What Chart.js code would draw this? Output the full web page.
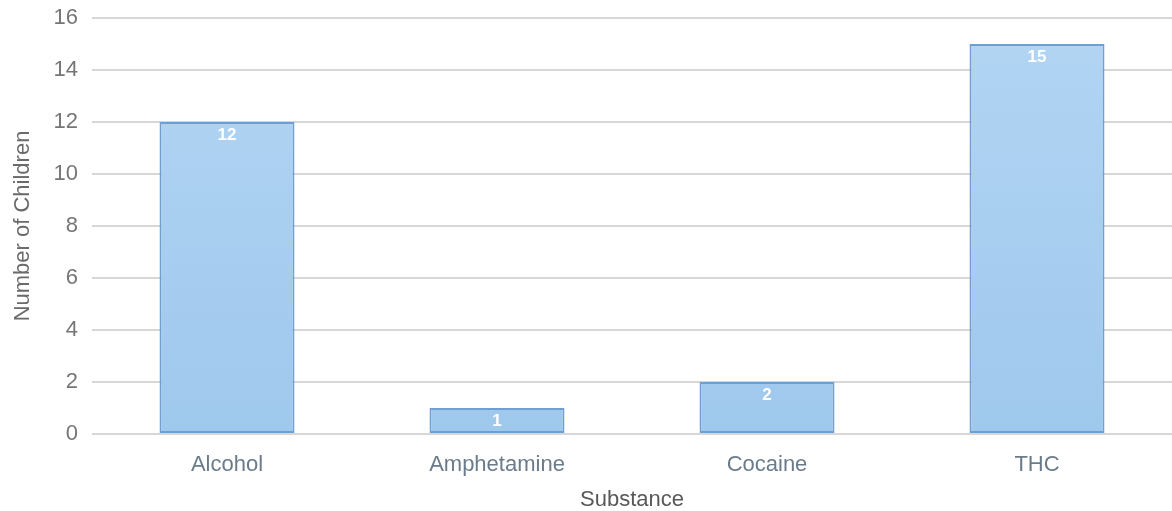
<!DOCTYPE html>
<html>
<head>
<meta charset="utf-8">
<style>
  html, body { margin: 0; padding: 0; background: #fff; }
  #wrap { width: 1172px; height: 511px; position: relative; }
</style>
<script src="https://cdn.jsdelivr.net/npm/chart.js@4/dist/chart.umd.min.js"></script>
</head>
<body>
<div id="wrap"><canvas id="c" width="1172" height="511"></canvas></div>
<script>
// Children testing positive, by substance
const substances = ['Alcohol', 'Amphetamine', 'Cocaine', 'THC'];
const childCounts = [12, 1, 2, 15];
const yTicks = [0, 2, 4, 6, 8, 10, 12, 14, 16];

const FONT = '"Liberation Sans", Arial, sans-serif';

// White count written just under the top edge of each bar
const valueLabels = {
  id: 'valueLabels',
  afterDatasetsDraw(chart) {
    const ctx = chart.ctx;
    const meta = chart.getDatasetMeta(0);
    ctx.save();
    ctx.font = 'bold 17px ' + FONT;
    ctx.fillStyle = '#ffffff';
    ctx.textAlign = 'center';
    ctx.textBaseline = 'middle';
    meta.data.forEach((bar, i) => {
      ctx.fillText(String(childCounts[i]), bar.x, bar.y + 13);
    });
    ctx.restore();
  }
};

const ctx = document.getElementById('c').getContext('2d');
const grad = ctx.createLinearGradient(0, 18, 0, 434);
grad.addColorStop(0, '#b2d5f3');
grad.addColorStop(1, '#9fc8ed');

new Chart(ctx, {
  type: 'bar',
  data: {
    labels: substances,
    datasets: [{
      data: childCounts,
      backgroundColor: grad,
      borderColor: '#6d9fd2',
      borderWidth: 2,
      borderSkipped: false,
      categoryPercentage: 1,
      barPercentage: 0.5
    }]
  },
  options: {
    responsive: false,
    animation: false,
    devicePixelRatio: 1,
    layout: { padding: { top: 18, right: 0, left: 0, bottom: 0 } },
    plugins: {
      legend: { display: false },
      tooltip: { enabled: false }
    },
    scales: {
      x: {
        grid: { display: false },
        border: { display: false },
        ticks: { color: '#6a7c8b', font: { family: FONT, size: 22 }, padding: 10 },
        title: {
          display: true,
          text: 'Substance',
          color: '#585858',
          font: { family: FONT, size: 22 },
          padding: { top: 8, bottom: -2 }
        },
        afterFit(s) { s.height = 77; s.paddingLeft = 0; s.paddingRight = 0; }
      },
      y: {
        min: 0,
        max: 16,
        afterBuildTicks(s) { s.ticks = yTicks.map(v => ({ value: v })); },
        grid: { color: '#d7d7d7', lineWidth: 2, drawTicks: false },
        border: { display: false },
        ticks: { color: '#767676', font: { family: FONT, size: 22 }, padding: 14 },
        title: {
          display: true,
          text: 'Number of Children',
          color: '#6a6a6a',
          font: { family: FONT, size: 22 },
          padding: { top: 10, bottom: 6 }
        },
        afterFit(s) { s.width = 92; s.paddingTop = 0; s.paddingBottom = 0; }
      }
    }
  },
  plugins: [valueLabels]
});
</script>
</body>
</html>
